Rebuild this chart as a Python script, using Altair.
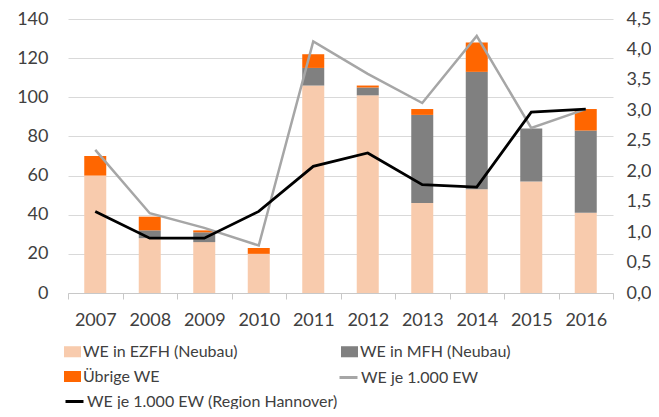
import altair as alt
import pandas as pd

years = ["2007", "2008", "2009", "2010", "2011", "2012", "2013", "2014", "2015", "2016"]
ezfh = [60, 28, 26, 20, 106, 101, 46, 53, 57, 41]
mfh = [0, 4, 5, 0, 9, 4, 45, 60, 27, 42]
uebrige = [10, 7, 1, 3, 7, 1, 3, 15, 0, 11]
we_je = [2.35, 1.31, 1.07, 0.78, 4.13, 3.60, 3.12, 4.22, 2.71, 3.02]
we_region = [1.34, 0.90, 0.90, 1.34, 2.08, 2.30, 1.78, 1.74, 2.97, 3.02]

bar_series = ["WE in EZFH (Neubau)", "WE in MFH (Neubau)", "Übrige WE"]
bar_colors = ["#f8cbad", "#808080", "#ff6600"]
line_names = ["WE je 1.000 EW", "WE je 1.000 EW (Region Hannover)"]
line_colors = ["#a6a6a6", "#000000"]
left_ticks = [0, 20, 40, 60, 80, 100, 120, 140]
right_ticks = [0, 0.5, 1.0, 1.5, 2.0, 2.5, 3.0, 3.5, 4.0, 4.5]

rows = []
for i, yr in enumerate(years):
    for k, (name, vals) in enumerate(zip(bar_series, [ezfh, mfh, uebrige])):
        rows.append({"Jahr": yr, "Serie": name, "Wert": vals[i], "Ordnung": k})
bars_df = pd.DataFrame(rows)
line_df = pd.DataFrame({
    "Jahr": years,
    "je": we_je,
    "region": we_region,
    "s1": line_names[0],
    "s2": line_names[1],
})

x_enc = alt.X(
    "Jahr:N",
    sort=years,
    scale=alt.Scale(paddingInner=0, paddingOuter=0),
    axis=alt.Axis(title=None, labelAngle=0, tickBand="extent", ticks=True,
                  tickSize=6, labelPadding=12, grid=False),
)

bars = alt.Chart(bars_df).mark_bar(size=22).encode(
    x=x_enc,
    y=alt.Y("Wert:Q", stack="zero",
            scale=alt.Scale(domain=[0, 140], nice=False),
            axis=alt.Axis(values=left_ticks, title=None, grid=True, domain=False,
                          ticks=False, labelPadding=20)),
    fill=alt.Fill("Serie:N", scale=alt.Scale(domain=bar_series, range=bar_colors),
                  legend=alt.Legend(orient="none", legendX=-4, legendY=324,
                                    direction="horizontal",
                                    columns=2, columnPadding=103,
                                    symbolType="M-1,-0.65L1,-0.65L1,0.65L-1,0.65Z",
                                    symbolSize=289, symbolStrokeWidth=0, title=None)),
    order=alt.Order("Ordnung:Q", sort="ascending"),
)

gray = alt.Chart(line_df).mark_line(strokeWidth=2.5).encode(
    x=alt.X("Jahr:N", sort=years),
    y=alt.Y("je:Q", scale=alt.Scale(domain=[0, 4.5], nice=False),
            axis=alt.Axis(orient="right", values=right_ticks, title=None, grid=False,
                          domain=False, ticks=False, labelPadding=13,
                          labelExpr="replace(format(datum.value, '.1f'), '.', ',')")),
    stroke=alt.Stroke("s1:N", scale=alt.Scale(domain=[line_names[0]], range=[line_colors[0]]),
                      legend=alt.Legend(orient="none", legendX=270, legendY=348,
                                        symbolType="stroke", symbolSize=324,
                                        symbolStrokeWidth=3, title=None)),
)

black = alt.Chart(line_df).mark_line(strokeWidth=2.8).encode(
    x=alt.X("Jahr:N", sort=years),
    y=alt.Y("region:Q", scale=alt.Scale(domain=[0, 4.5], nice=False), axis=None),
    stroke=alt.Stroke("s2:N", scale=alt.Scale(domain=[line_names[1]], range=[line_colors[1]]),
                      legend=alt.Legend(orient="none", legendX=-4, legendY=372,
                                        symbolType="stroke", symbolSize=324,
                                        symbolStrokeWidth=3, title=None)),
)

chart = alt.layer(bars, gray, black).resolve_scale(
    y="independent", stroke="independent"
).properties(
    width=545, height=274,
    autosize=alt.AutoSizeParams(type="none"),
    padding={"left": 60, "top": 11, "right": 38, "bottom": 116},
).configure_view(stroke=None).configure_axis(
    labelFont="Lato", labelFontSize=18, labelColor="#404040",
    gridColor="#d9d9d9", gridWidth=1,
    domainColor="#c8c8c8", tickColor="#c8c8c8",
).configure_legend(
    labelFont="Lato", labelFontSize=16, labelColor="#404040",
    padding=0, labelOffset=2, rowPadding=8, labelLimit=400,
)

chart.save("out.html", embed_options={"renderer": "svg", "actions": False})
